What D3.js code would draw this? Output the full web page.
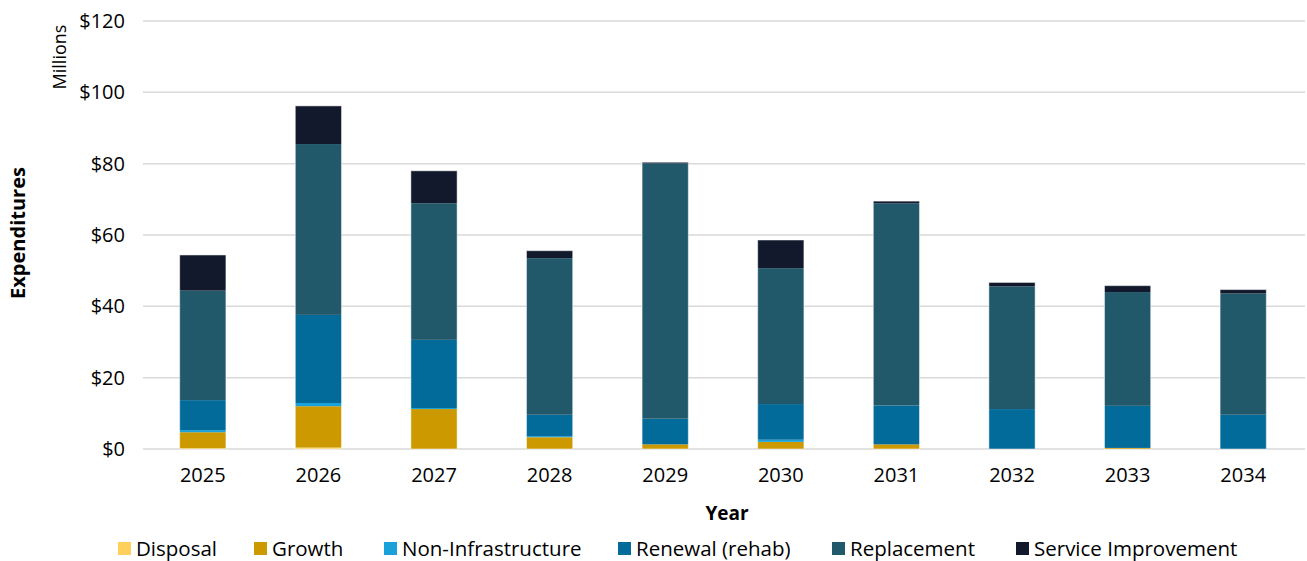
<!DOCTYPE html>
<html><head><meta charset="utf-8">
<script src="https://cdn.jsdelivr.net/npm/d3@7"></script>
<style>body{margin:0;background:#fff}svg{display:block}text{font-family:"Open Sans",sans-serif;fill:#000}</style>
</head><body><svg id="c" width="1307" height="561"></svg>
<script>
const years = ["2025","2026","2027","2028","2029","2030","2031","2032","2033","2034"];
const seriesNames = ["Disposal","Growth","Non-Infrastructure","Renewal (rehab)","Replacement","Service Improvement"];
const disposal      = [0.2, 0.4, 0.0, 0.0, 0.0, 0.0, 0.0, 0.0, 0.0, 0.0];
const growth        = [4.5, 11.6, 11.2, 3.3, 1.3, 2.0, 1.3, 0.0, 0.3, 0.0];
const nonInfra      = [0.6, 0.9, 0.3, 0.3, 0.0, 0.6, 0.0, 0.0, 0.0, 0.0];
const renewal       = [8.4, 24.7, 19.1, 6.0, 7.2, 10.0, 10.9, 11.2, 11.8, 9.6];
const replacement   = [30.7, 47.9, 38.3, 43.9, 71.6, 38.1, 56.7, 34.4, 31.9, 34.0];
const serviceImp    = [10.0, 10.7, 9.1, 2.1, 0.3, 7.9, 0.6, 1.1, 1.8, 1.1];
const yTicks = [0, 20, 40, 60, 80, 100, 120];
const colors = ["#FFD15C","#CC9A00","#1BA1D9","#026B9A","#22596A","#12192C"];

const seriesValues = [disposal, growth, nonInfra, renewal, replacement, serviceImp];
const rows = years.map((y,i)=>{const r={year:y}; seriesNames.forEach((s,j)=>r[s]=seriesValues[j][i]); return r;});
const stacked = d3.stack().keys(seriesNames)(rows);

const svg = d3.select("#c");
const m = {l:145, r:1301, t:21, b:449};
const x = d3.scaleBand().domain(years).range([m.l, m.r]).paddingInner(0.6).paddingOuter(0.3);
const y = d3.scaleLinear().domain([0,120]).range([m.b, m.t]);

// gridlines
svg.append("g").selectAll("line").data(yTicks).join("line")
  .attr("x1",143).attr("x2",1305).attr("y1",d=>y(d)).attr("y2",d=>y(d))
  .attr("stroke","#d9d9d9").attr("stroke-width",1.5);

// y axis labels
const yAxis = d3.axisLeft(y).tickValues(yTicks).tickFormat(d=>"$"+d).tickSize(0).tickPadding(0);
const ya = svg.append("g").attr("transform","translate(125,0)").call(yAxis);
ya.select(".domain").remove();
ya.selectAll("text").style("font-size","20px").style("font-family","'Open Sans',sans-serif").attr("fill","#000");

// bars
svg.append("g").selectAll("g").data(stacked).join("g").attr("fill",(d,i)=>colors[i])
  .selectAll("rect").data(d=>d).join("rect")
  .attr("x",d=>x(d.data.year)).attr("width",x.bandwidth())
  .attr("y",d=>y(d[1])).attr("height",d=>Math.max(0,y(d[0])-y(d[1])));
// light outline around each bar
svg.append("g").selectAll("rect").data(rows).join("rect")
  .attr("x",d=>x(d.year)).attr("width",x.bandwidth())
  .attr("y",d=>y(d3.sum(seriesNames,s=>d[s]))).attr("height",d=>y(0)-y(d3.sum(seriesNames,s=>d[s])))
  .attr("fill","none").attr("stroke","#ffffff").attr("stroke-opacity",0.5).attr("stroke-width",1);

// x axis
const xAxis = d3.axisBottom(x).tickSize(0).tickPadding(0);
const xa = svg.append("g").attr("transform","translate(0,468)").call(xAxis);
xa.select(".domain").remove();
xa.selectAll("text").style("font-size","20px").style("font-family","'Open Sans',sans-serif").attr("fill","#000");

// axis titles
svg.append("text").attr("transform","translate(727,520)").attr("text-anchor","middle")
  .style("font-size","19px").style("font-weight","bold").text("Year");
svg.append("text").attr("transform","translate(25,233) rotate(-90)").attr("text-anchor","middle")
  .style("font-size","20px").style("font-weight","bold").text("Expenditures");
svg.append("text").attr("transform","translate(66,57) rotate(-90)").attr("text-anchor","middle")
  .style("font-size","18px").text("Millions");

// legend
const legendX = [118, 254, 384, 618, 832, 1016];
const lg = svg.append("g").attr("transform","translate(0,549)");
seriesNames.forEach((s,i)=>{
  const g = lg.append("g").attr("transform",`translate(${legendX[i]},0)`);
  g.append("rect").attr("x",0).attr("y",-7).attr("width",13).attr("height",13).attr("fill",colors[i]);
  g.append("text").attr("x",18).attr("y",0).attr("dy","0.35em").style("font-size","20.5px").text(s);
});
</script></body></html>
